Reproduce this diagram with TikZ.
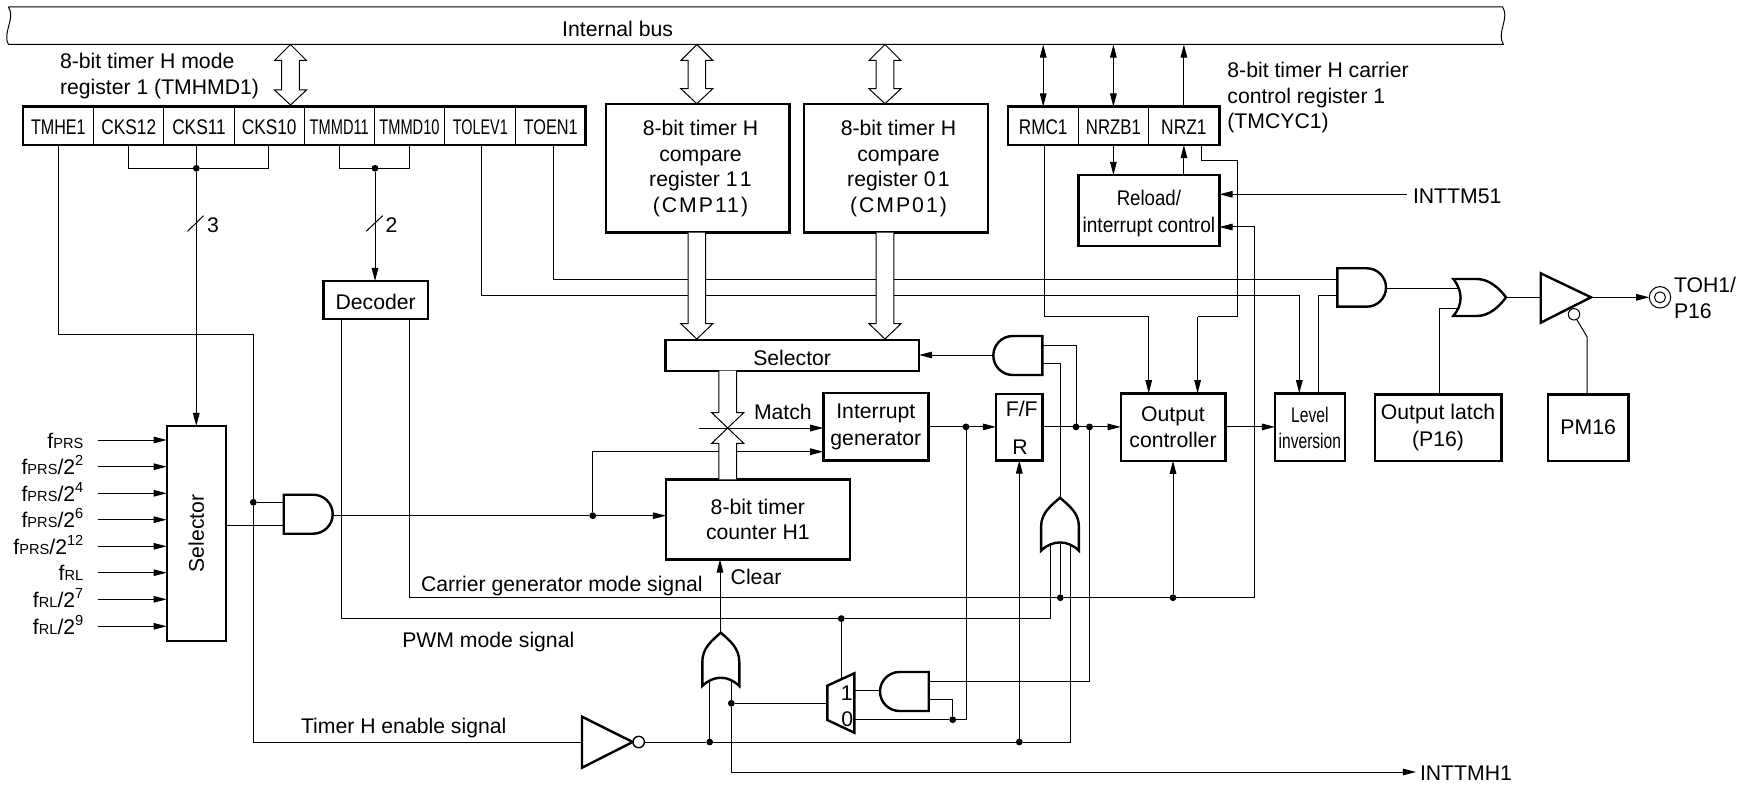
\documentclass[tikz,border=0pt]{standalone}
\usepackage{fontspec}
\setmainfont{Liberation Sans}
\newfontfamily\spacedf[LetterSpace=9.4]{Liberation Sans}
\usetikzlibrary{arrows.meta}
\newcommand\nw[2]{\raisebox{0pt}[8.5pt][0pt]{\scalebox{#1}[1]{#2}}}
\newcommand\dn[1]{\raisebox{0pt}[9.7pt][0pt]{#1}}
\newcommand\fq[2]{f{\fontsize{7.3}{8}\selectfont #1}#2}
\newcommand\sx[1]{\raisebox{0.42em}{\fontsize{7.3}{8}\selectfont #1}}
\tikzset{
  x=0.5pt,y=-0.5pt,
  every node/.style={inner sep=0pt,outer sep=0pt,font=\fontsize{10.6}{12.75}\selectfont},
  wire/.style={line width=0.5pt},
  arr/.style={wire,-{Triangle[length=6.6pt,width=3.3pt]}},
  darr/.style={wire,{Triangle[length=6.6pt,width=3.3pt]}-{Triangle[length=6.6pt,width=3.3pt]}},
  thickbox/.style={draw,line width=1.2pt,align=center},
  cellbox/.style={draw,line width=0.5pt,align=center},
  gate/.style={draw,line width=1.2pt,fill=white,line join=miter},
  hollow/.style={draw,line width=0.5pt,fill=white},
  jdot/.style={circle,fill=black,minimum size=3.4pt},
  lbl/.style={anchor=base west},
}
% name, x1, y1, x2, y2, style, text
\newcommand\bx[7]{%
  \pgfmathsetmacro\bxw{(#4-#2)*0.5}%
  \pgfmathsetmacro\bxh{(#5-#3)*0.5}%
  \pgfmathsetmacro\bxx{(#2+#4)/2}%
  \pgfmathsetmacro\bxy{(#3+#5)/2}%
  \node[#6,minimum width=\bxw pt,minimum height=\bxh pt] (#1) at (\bxx,\bxy) {#7};%
}
% AND gate: flat x, tip x, top y, bottom y
\newcommand\andg[4]{%
  \pgfmathsetmacro\gr{(#4-#3)/2}%
  \pgfmathsetmacro\gs{#2>#1 ? 1 : -1}%
  \pgfmathsetmacro\gxs{#2-\gs*\gr}%
  \pgfmathsetmacro\gym{(#3+#4)/2}%
  \pgfmathsetmacro\gca{#2-\gs*\gr*0.448}%
  \pgfmathsetmacro\gya{\gym-\gr*0.552}%
  \pgfmathsetmacro\gyb{\gym+\gr*0.552}%
  \path[gate] (#1,#3) -- (\gxs,#3) .. controls (\gca,#3) and (#2,\gya) .. (#2,\gym)
    .. controls (#2,\gyb) and (\gca,#4) .. (\gxs,#4) -- (#1,#4) -- cycle;%
}
% vertical OR gate: centre x, half width, tip y, bottom y
\newcommand\orv[4]{%
  \pgfmathsetmacro\gl{#1-#2}\pgfmathsetmacro\gr{#1+#2}%
  \pgfmathsetmacro\gys{#4-24}\pgfmathsetmacro\gyc{#4-38}\pgfmathsetmacro\gyd{#3+8}%
  \pgfmathsetmacro\gcl{#1-9}\pgfmathsetmacro\gcr{#1+9}%
  \pgfmathsetmacro\gyi{#4-11}%
  \pgfmathsetmacro\gil{#1-#2+11}\pgfmathsetmacro\gir{#1+#2-11}%
  \path[gate] (\gl,#4) -- (\gl,\gys) .. controls (\gl,\gyc) and (\gcl,\gyd) .. (#1,#3)
    .. controls (\gcr,\gyd) and (\gr,\gyc) .. (\gr,\gys) -- (\gr,#4)
    .. controls (\gir,\gyi) and (\gil,\gyi) .. (\gl,#4) -- cycle;%
}
\newcommand\dbl[3]{% centre x, top y, bottom y
  \pgfmathsetmacro\ha{#1-16}\pgfmathsetmacro\hb{#1-8.8}\pgfmathsetmacro\hc{#1+8.8}\pgfmathsetmacro\hd{#1+16}%
  \pgfmathsetmacro\va{#2+16}\pgfmathsetmacro\vb{#3-15}%
  \path[hollow] (#1,#2) -- (\hd,\va) -- (\hc,\va) -- (\hc,\vb) -- (\hd,\vb) -- (#1,#3)
    -- (\ha,\vb) -- (\hb,\vb) -- (\hb,\va) -- (\ha,\va) -- cycle;%
}
\newcommand\hdown[3]{% centre x, start y, tip y
  \pgfmathsetmacro\ha{#1-16}\pgfmathsetmacro\hb{#1-8.8}\pgfmathsetmacro\hc{#1+8.8}\pgfmathsetmacro\hd{#1+16}%
  \pgfmathsetmacro\vb{#3-15.3}%
  \path[hollow] (\hb,#2) -- (\hb,\vb) -- (\ha,\vb) -- (#1,#3) -- (\hd,\vb) -- (\hc,\vb) -- (\hc,#2);%
}
\newcommand\hup[3]{% centre x, start y, tip y
  \pgfmathsetmacro\ha{#1-16}\pgfmathsetmacro\hb{#1-8.8}\pgfmathsetmacro\hc{#1+8.8}\pgfmathsetmacro\hd{#1+16}%
  \pgfmathsetmacro\vb{#3+15.3}%
  \path[hollow] (\hb,#2) -- (\hb,\vb) -- (\ha,\vb) -- (#1,#3) -- (\hd,\vb) -- (\hc,\vb) -- (\hc,#2);%
}
\begin{document}
\begin{tikzpicture}
\useasboundingbox (0,0) rectangle (1751,786);

% ---- internal bus
\coordinate (bus) at (755,44.5);
\draw[wire] (8.4,7) -- (1502.6,7) .. controls (1510,18) and (1496,33) .. (1503.4,44.5)
  -- (8.4,44.5) .. controls (2,33) and (16,18) .. (8.4,7);
\node (buslbl) at (617.6,29) {Internal bus};

% ---- registers
\bx{tmhe}{23}{106.7}{93.8}{145}{cellbox}{\nw{.76}{TMHE1}}
\bx{cks12}{93.8}{106.7}{163.8}{145}{cellbox}{\nw{.815}{CKS12}}
\bx{cks11}{163.8}{106.7}{234.2}{145}{cellbox}{\nw{.815}{CKS11}}
\bx{cks10}{234.2}{106.7}{304.2}{145}{cellbox}{\nw{.815}{CKS10}}
\bx{tmmd11}{304.2}{106.7}{374.3}{145}{cellbox}{\nw{.69}{TMMD11}}
\bx{tmmd10}{374.3}{106.7}{444.7}{145}{cellbox}{\nw{.69}{TMMD10}}
\bx{tolev}{444.7}{106.7}{515.9}{145}{cellbox}{\nw{.68}{TOLEV1}}
\bx{toen}{515.9}{106.7}{585.5}{145}{cellbox}{\nw{.77}{TOEN1}}
\bx{tmhmd}{23}{106.7}{585.5}{145}{thickbox}{}
\bx{rmc}{1008}{106.7}{1078.4}{145}{cellbox}{\nw{.81}{RMC1}}
\bx{nrzb}{1078.4}{106.7}{1148.4}{145}{cellbox}{\nw{.79}{NRZB1}}
\bx{nrz}{1148.4}{106.7}{1219.4}{145}{cellbox}{\nw{.82}{NRZ1}}
\bx{tmcyc}{1008}{106.7}{1219.4}{145}{thickbox}{}

% ---- function boxes
\bx{cmp11}{605.7}{104.3}{789.4}{232.7}{thickbox}{}
\node[align=center] (cmp11t) at (700.5,168.5) {8-bit timer H\\compare\\register 1\kern1.2pt 1\\{\spacedf (CMP11)}};
\bx{cmp01}{804}{104.3}{988}{232.7}{thickbox}{}
\node[align=center] (cmp01t) at (898.5,168.5) {8-bit timer H\\compare\\register 0\kern1.2pt 1\\{\spacedf (CMP01)}};
\bx{reload}{1078.4}{175}{1219.4}{246}{thickbox}{\nw{.88}{Reload/}\\[0.5pt]\nw{.9}{interrupt control}}
\bx{decoder}{323.4}{281}{427.9}{319.3}{thickbox}{\dn{Decoder}}
\bx{selh}{665.3}{340}{919}{370.7}{thickbox}{\dn{Selector}}
\bx{intgen}{823.3}{393}{928.3}{460.3}{thickbox}{Interrupt\\[0.6pt]generator}
\bx{counter}{666}{479.3}{849.7}{559.3}{thickbox}{8-bit timer\\counter H1}
\bx{ff}{996}{394}{1042.3}{460.3}{thickbox}{}
\node (fflbl) at (1021.7,409) {F/F};
\node (rlbl) at (1020,447) {R};
\bx{oc}{1120.7}{393.3}{1225.3}{460.7}{thickbox}{Output\\controller}
\bx{lev}{1275}{393.3}{1344.7}{460.7}{thickbox}{\nw{.74}{Level}\\\nw{.735}{inversion}}
\bx{latch}{1374.7}{394.3}{1501.3}{460.7}{thickbox}{Output latch\\[0.7pt](P16)}
\bx{pm}{1548}{394.3}{1628.3}{460.7}{thickbox}{PM16}
\bx{selv}{166.7}{426}{226}{640.7}{thickbox}{\rotatebox{90}{Selector}}

% ---- junctions
\node[jdot] (jcks) at (196.3,168.3) {};
\node[jdot] (jtm) at (375,168.3) {};
\node[jdot] (jen) at (253.3,502.3) {};
\node[jdot] (jclk) at (592.7,515.7) {};
\node[jdot] (jff) at (966,426.9) {};
\node[jdot] (jq1) at (1076,426.9) {};
\node[jdot] (jq2) at (1089.5,426.9) {};
\node[jdot] (jcar1) at (1060.3,597.7) {};
\node[jdot] (jcar2) at (1173,597.7) {};
\node[jdot] (jpwm) at (841.3,618.6) {};
\node[jdot] (jen1) at (709.7,742) {};
\node[jdot] (jen2) at (1019.3,742) {};
\node[jdot] (jint) at (731.3,703.3) {};
\node[jdot] (jmux) at (952.7,719.7) {};

\coordinate (invin) at (582,742);
\coordinate (invbub) at (644.4,742);
\coordinate (and1a) at (283.7,502.3);
\coordinate (and1b) at (283.7,525);
\coordinate (and1o) at (332.7,515.7);
\coordinate (and2a) at (1042.3,345.3);
\coordinate (and2b) at (1042.3,363.7);
\coordinate (and2o) at (993.3,355);
\coordinate (and3a) at (928.7,681);
\coordinate (and3b) at (928.7,699.3);
\coordinate (and3c) at (880,690.3);
\coordinate (and4a) at (1337.3,279.5);
\coordinate (and4b) at (1337.3,295.5);
\coordinate (and4o) at (1386,288.3);
\coordinate (or1tip) at (1060,497.7);
\coordinate (or1a) at (1050.7,545);
\coordinate (or1b) at (1060.3,544);
\coordinate (or1c) at (1070.3,545);
\coordinate (or3tip) at (720,632.7);
\coordinate (or3a) at (709.7,681);
\coordinate (or3b) at (731.3,681);
\coordinate (or4a) at (1458,288.3);
\coordinate (or4b) at (1458,308.3);
\coordinate (or4o) at (1506,297.3);
\coordinate (bufin) at (1540.7,297.3);
\coordinate (bufout) at (1591,297.3);
\coordinate (bubin) at (1576.7,319.5);
\coordinate (muxin) at (827.3,703.3);
\coordinate (muxsel) at (841.3,679);
\coordinate (mux1) at (854.3,690.3);
\coordinate (mux0) at (854.3,719.7);
\coordinate (inttm) at (1406.8,194.3);
\coordinate (inttmh) at (1416,772);
\coordinate (xlevo) at (1318.7,295.5);
\coordinate (xcar) at (409.7,597.7);
\coordinate (xpwm) at (341.7,618.6);
\coordinate (xlat) at (1439,308.3);
\coordinate (xpm) at (1587,336.7);
\coordinate (ncar) at (1254.6,227);

% ---- bus connections
\draw[darr] (rmc.north |- bus) -- (rmc.north);
\draw[darr] (nrzb.north |- bus) -- (nrzb.north);
\draw[arr] (nrz.north) -- (nrz.north |- bus);
\draw[arr] (nrzb.south) -- (nrzb.south |- reload.north);
\draw[arr] (nrz.south |- reload.north) -- (nrz.south);
\draw[arr] (inttm) -- (reload.east |- inttm);
\draw[arr] (ncar) -- (reload.east |- ncar);

% ---- mode register lines
\draw[wire] (cks12.south) -- (cks12.south |- jcks) -- (jcks);
\draw[wire] (268.3,145) -- (268.3,168.3) -- (jcks);
\draw[wire] (cks11.south -| jcks) -- (jcks);
\draw[arr] (jcks) -- (selv.north -| jcks);
\draw[wire] (187.5,231.3) -- (203.6,215.7);
\node (three) at (213,225) {3};
\draw[wire] (339.8,145) -- (339.8,168.3) -- (jtm);
\draw[wire] (409.9,145) -- (409.9,168.3) -- (jtm);
\draw[arr] (jtm) -- (decoder.north -| jtm);
\draw[wire] (366.2,231.3) -- (382.7,215.7);
\node (two) at (391.5,225) {2};
% TMHE1 -> enable
\coordinate (en1) at (253.3,335);
\draw[wire] (tmhe.south) |- (en1) -- (jen) -- (jen |- invin) -- (invin);
% TOLEV1, TOEN1
\coordinate (tol) at (481.8,295.3);
\coordinate (toe) at (553.8,279.5);
\coordinate (tolr) at (1299.3,295.3);
\draw[wire] (tol |- tolev.south) -- (tol) -- (tolr);
\draw[arr] (tolr) -- (tolr |- lev.north);
\draw[wire] (toe |- toen.south) -- (toe) -- (and4a);
\draw[wire] (xlevo |- lev.north) -- (xlevo) -- (and4b);
% RMC1, NRZ1 -> output controller
\coordinate (r1) at (1044.3,316.7);
\coordinate (r2) at (1148.7,316.7);
\coordinate (n2) at (1197.6,316.7);
\draw[wire] (r1 |- rmc.south) -- (r1) -- (r2);
\draw[arr] (r2) -- (r2 |- oc.north);
\draw[wire] (1201,145) -- (1201,161) -- (1237.4,161) -- (1237.4,316.7) -- (n2);
\draw[arr] (n2) -- (n2 |- oc.north);

% ---- clock selector inputs
\foreach \y/\t [count=\n] in {440/{\fq{PRS}{}},466.7/{\fq{PRS}{/2\sx{2}}},493.3/{\fq{PRS}{/2\sx{4}}},519.7/{\fq{PRS}{/2\sx{6}}},546.3/{\fq{PRS}{/2\sx{12}}},572.7/{\fq{RL}{}},599.3/{\fq{RL}{/2\sx{7}}},626.3/{\fq{RL}{/2\sx{9}}}}{
  \node[anchor=base east] (clk\n) at (83.3,\y+8) {\t};
  \coordinate (clks\n) at (97.7,\y);
  \draw[arr] (clks\n) -- (selv.west |- clks\n);
}
\draw[wire] (jen) -- (and1a);
\draw[wire] (selv.east |- and1b) -- (and1b);
\draw[wire] (and1o) -- (jclk);
\draw[arr] (jclk) -- (counter.west |- jclk);
\coordinate (c1) at (592.7,451.7);
\draw[arr] (jclk) -- (c1) -- (intgen.west |- c1);

% ---- hollow buses
\dbl{290.5}{44.5}{105}
\dbl{696.8}{44.5}{103.7}
\dbl{885}{44.5}{103.7}
\hdown{696.8}{232.7}{339}
\hdown{885}{232.7}{339}
\hdown{727.7}{370.7}{428}
\hup{727.7}{479.3}{428}
\coordinate (mt) at (698.7,428);
\draw[arr] (mt) -- (intgen.west |- mt);

% ---- interrupt generator -> F/F -> controller
\draw[wire] (intgen.east |- jff) -- (jff);
\draw[arr] (jff) -- (ff.west |- jff);
\draw[wire] (ff.east |- jq1) -- (jq1) -- (jq2);
\draw[arr] (jq2) -- (oc.west |- jq2);
\draw[arr] (oc.east |- jq2) -- (lev.west |- jq2);
\draw[arr] (jen2) -- (ff.south -| jen2);
% feedback AND
\draw[wire] (and2a) -| (jq1);
\draw[wire] (and2b) -- (or1tip |- and2b) -- (or1tip);
\draw[arr] (and2o) -- (selh.east |- and2o);
% carrier / PWM
\draw[wire] (decoder.south -| xcar) -- (xcar) -- (jcar1) -- (jcar2) -- (1254.6,597.7) -- (ncar);
\draw[arr] (jcar2) -- (oc.south -| jcar2);
\draw[wire] (or1b) -- (jcar1);
\draw[wire] (decoder.south -| xpwm) -- (xpwm) -- (jpwm) -- (1050.7,618.6) -- (or1a);
\draw[wire] (jpwm) -- (muxsel);
% enable line
\draw[wire] (invbub) -- (jen1) -- (jen2) -- (1070.3,742) -- (or1c);
\draw[wire] (or3a) -- (jen1);
\draw[wire] (jint) -- (or3b);
\draw[wire] (jint) -- (muxin);
\draw[arr] (jint) -- (731.3,772) -- (inttmh);
\draw[arr] (or3tip) -- (counter.south -| or3tip);
% mux, AND
\draw[wire] (mux1) -- (and3c);
\draw[wire] (mux0) -- (jmux) -- (966,719.7) -- (jff);
\draw[wire] (and3b) -- (952.7,699.3) -- (jmux);
\draw[wire] (and3a) -- (1089.5,681) -- (jq2);
% output path
\draw[wire] (and4o) -- (or4a);
\draw[wire] (latch.north -| xlat) -- (xlat) -- (or4b);
\draw[wire] (or4o) -- (bufin);
\draw[arr] (bufout) -- (1649.3,297.3);
\draw[wire] (pm.north -| xpm) -- (xpm) -- (bubin);

% ---- gates
\andg{283.7}{332.7}{494.7}{533.7}
\andg{1042.3}{993.3}{336}{375}
\andg{928.7}{880}{672}{711}
\andg{1337.3}{1386}{268.3}{306.7}
\orv{1060}{18.9}{497.7}{550.7}
\orv{720.8}{18.5}{632.7}{686}
\path[gate] (1453.3,279) -- (1476.7,279) .. controls (1489,279) and (1499,288) .. (1506,297.3)
  .. controls (1499,307) and (1489,316) .. (1476.7,316) -- (1453.3,316)
  .. controls (1463,305) and (1463,291) .. (1453.3,279) -- cycle;
\path[gate] (582,716.7) -- (632.7,742) -- (582,767.7) -- cycle;
\path[draw,line width=0.7pt,fill=white] (638.7,742) circle[radius=5.7];
\path[gate] (1540.7,273.3) -- (1591,297.3) -- (1540.7,322.7) -- cycle;
\path[draw,line width=0.5pt,fill=white] (1574,314.3) circle[radius=5.7];
\path[gate] (827.3,685.7) -- (854.3,673.3) -- (854.3,732.7) -- (827.3,720) -- cycle;
\node (m1) at (846.7,693.5) {1};
\node (m0) at (847.3,719) {0};
\draw[wire] (1660,297.3) circle[radius=10.7];
\draw[wire] (1660,297.3) circle[radius=5.5];

% ---- labels
\node[lbl] (t1) at (60,68.3) {8-bit timer H mode};
\node[lbl] (t2) at (60,94.3) {register 1 (TMHMD1)};
\node[lbl] (t3) at (1227.4,77.7) {8-bit timer H carrier};
\node[lbl] (t4) at (1227.4,103.3) {control register 1};
\node[lbl] (t5) at (1227.4,128.5) {(TMCYC1)};
\node[lbl] (t6) at (1413,204) {INTTM51};
\node[lbl] (t7) at (1674,292.5) {TOH1/};
\node[lbl] (t8) at (1674,318.5) {P16};
\node[lbl] (t9) at (754,419) {Match};
\node[lbl] (t10) at (730.7,584) {Clear};
\node[lbl] (t11) at (421,591) {Carrier generator mode signal};
\node[lbl] (t12) at (402.3,647.5) {PWM mode signal};
\node[lbl] (t13) at (301,733.5) {Timer H enable signal};
\node[lbl] (t14) at (1420,780) {INTTMH1};
\end{tikzpicture}
\end{document}
